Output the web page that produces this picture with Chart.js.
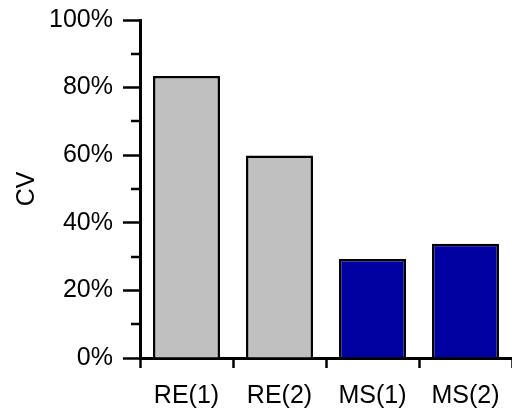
<!DOCTYPE html>
<html>
<head>
<meta charset="utf-8">
<script src="https://cdn.jsdelivr.net/npm/chart.js@4/dist/chart.umd.min.js"></script>
<style>
  html, body { margin: 0; padding: 0; background: #fff; overflow: hidden; }
  #wrap { width: 512px; height: 408px; }
</style>
</head>
<body>
<div id="wrap"><canvas id="c" width="512" height="408"></canvas></div>
<script>
// Coefficient of variation per method
const categories = ['RE(1)', 'RE(2)', 'MS(1)', 'MS(2)'];
const cvValues = [83.4, 59.9, 29.3, 33.8];
const barColors = ['#c0c0c0', '#c0c0c0', '#0000a0', '#0000a0'];
const yTickValues = [0, 20, 40, 60, 80, 100];
const yMinorValues = [10, 30, 50, 70, 90];

const FONT = 'Liberation Sans, Arial, sans-serif';
Chart.defaults.color = '#000';
Chart.defaults.font.family = FONT;

// short unlabelled ticks between the labelled ones on the value axis
const minorTicks = {
  id: 'minorTicks',
  afterDraw(chart) {
    const y = chart.scales.y;
    const ctx = chart.ctx;
    ctx.save();
    ctx.strokeStyle = '#000';
    ctx.lineWidth = 2.5;
    yMinorValues.forEach(v => {
      const py = Math.round(y.getPixelForValue(v));
      ctx.beginPath();
      ctx.moveTo(y.right - 9, py);
      ctx.lineTo(y.right, py);
      ctx.stroke();
    });
    ctx.restore();
  }
};

new Chart(document.getElementById('c'), {
  type: 'bar',
  data: {
    labels: categories,
    datasets: [{
      data: cvValues,
      backgroundColor: barColors,
      borderColor: '#000',
      borderWidth: 2.5,
      barPercentage: 0.72,
      categoryPercentage: 1.0
    }]
  },
  options: {
    responsive: false,
    animation: false,
    devicePixelRatio: 1,
    layout: { padding: { top: 20, right: 0, left: 0, bottom: 0 } },
    plugins: { legend: { display: false }, tooltip: { enabled: false } },
    scales: {
      x: {
        offset: true,
        grid: {
          offset: true,
          drawOnChartArea: false,
          tickLength: 10,
          tickWidth: 2.5,
          color: '#000'
        },
        border: { color: '#000', width: 3 },
        ticks: { font: { size: 25, family: FONT }, padding: 13, maxRotation: 0 },
        afterFit(scale) {
          scale.height = 50;
          scale.paddingLeft = 0;
          scale.paddingRight = 0;
        }
      },
      y: {
        min: 0,
        max: 100,
        afterBuildTicks(scale) { scale.ticks = yTickValues.map(v => ({ value: v })); },
        grid: {
          drawOnChartArea: false,
          tickLength: 17,
          tickWidth: 2.5,
          color: '#000'
        },
        border: { color: '#000', width: 3 },
        ticks: {
          font: { size: 25, family: FONT },
          padding: 10,
          callback: v => v + '%'
        },
        title: {
          display: true,
          text: 'CV',
          font: { size: 25, family: FONT },
          padding: { top: 12, bottom: 0 }
        },
        afterFit(scale) {
          scale.width = 140;
          scale.paddingTop = 0;
          scale.paddingBottom = 0;
        }
      }
    }
  },
  plugins: [minorTicks]
});
</script>
</body>
</html>
